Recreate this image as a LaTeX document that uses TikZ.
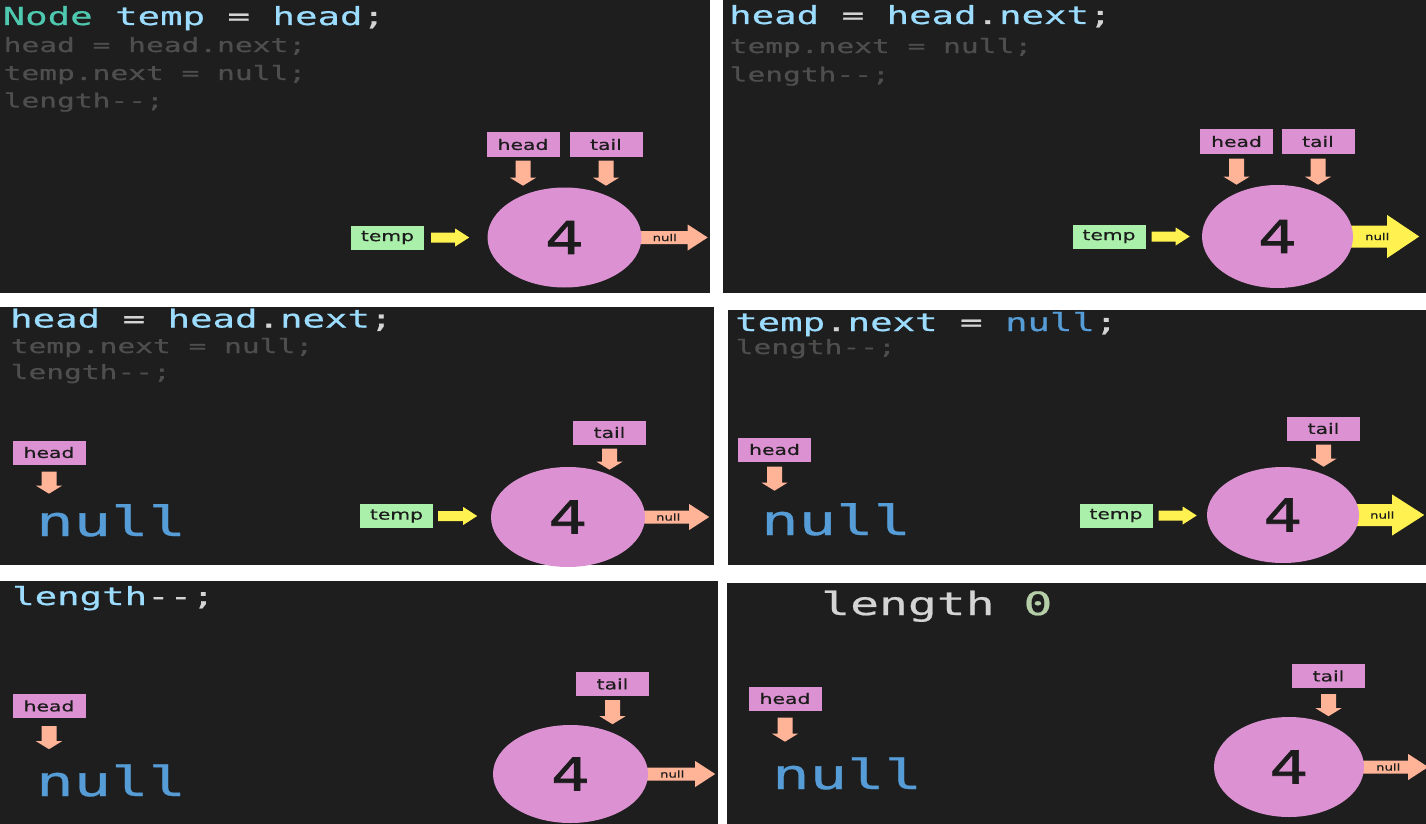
\documentclass[tikz,border=0pt]{standalone}
\usepackage{fontspec}
\usetikzlibrary{shapes.geometric,calc}
\newfontfamily\codefont[FakeStretch=1.5,FakeBold=0.7,Ligatures=TeXOff]{DejaVu Sans Mono}
\newfontfamily\labfont[FakeStretch=1.4,FakeBold=0.5,Ligatures=TeXOff]{DejaVu Sans}
\newfontfamily\digitfont[FakeStretch=1.35,FakeBold=1.6]{DejaVu Sans}
\definecolor{panelbg}{RGB}{30,30,30}
\definecolor{kwteal}{RGB}{78,201,176}
\definecolor{varblue}{RGB}{156,220,254}
\definecolor{opgrey}{RGB}{212,212,212}
\definecolor{dimtext}{RGB}{78,78,78}
\definecolor{nullblue}{RGB}{86,156,214}
\definecolor{numgreen}{RGB}{181,206,168}
\definecolor{nodepink}{RGB}{220,146,210}
\definecolor{salmonarr}{RGB}{255,180,152}
\definecolor{yellowarr}{RGB}{255,242,80}
\definecolor{tempgreen}{RGB}{170,240,170}
\definecolor{labtext}{RGB}{28,28,28}
\pgfdeclarelayer{front}
\pgfsetlayers{main,front}
\newcommand{\kw}[1]{\textcolor{kwteal}{#1}}
\newcommand{\vr}[1]{\textcolor{varblue}{#1}}
\newcommand{\op}[1]{\textcolor{opgrey}{#1}}
\newcommand{\nl}[1]{\textcolor{nullblue}{#1}}
\begin{document}
\begin{tikzpicture}[x=1pt,y=-1pt,
  codeln/.style={anchor=base west,inner sep=0pt,font=\codefont\fontsize{24.9}{28}\selectfont},
  dimln/.style={anchor=base west,inner sep=0pt,text=dimtext,font=\codefont\fontsize{19.7}{22}\selectfont},
  bignull/.style={anchor=base west,inner sep=0pt,text=nullblue,font=\codefont\fontsize{41.5}{46}\selectfont},
  lbl/.style={rectangle,fill=nodepink,text=labtext,inner sep=0pt,minimum width=73pt,minimum height=24pt,font=\labfont\fontsize{14.5}{16}\selectfont},
  tmp/.style={lbl,fill=tempgreen},
  listnode/.style={ellipse,fill=nodepink,text=labtext,inner sep=0pt,minimum width=154pt,minimum height=100pt,font=\digitfont\fontsize{45}{50}\selectfont},
  nulltxt/.style={inner sep=0pt,text=labtext,font=\labfont\fontsize{9.5}{10}\selectfont},
  pics/rarr/.style n args={5}{code={\fill[#5] (0,-#2) -- (#1-#4,-#2) -- (#1-#4,-#3) -- (#1,0) -- (#1-#4,#3) -- (#1-#4,#2) -- (0,#2) -- cycle;}},
  pics/darr/.style n args={5}{code={\fill[#5] (-#2,0) -- (-#2,#1-#4) -- (-#3,#1-#4) -- (0,#1) -- (#3,#1-#4) -- (#2,#1-#4) -- (#2,0) -- cycle;}},
]
\useasboundingbox (0,0) rectangle (1426,824);
\fill[white] (0,0) rectangle (1426,824);

% six frames of the removal walk-through
\fill[panelbg] (0,0) rectangle (710,293);
\fill[panelbg] (723,0) rectangle (1426,293);
\fill[panelbg] (0,307) rectangle (714,565);
\fill[panelbg] (728,310) rectangle (1426,565);
\fill[panelbg] (0,581) rectangle (718,824);
\fill[panelbg] (727,583) rectangle (1426,824);

% ---------- frame 1 ----------
\node[codeln] (c1a) at (2.5,25) {\kw{Node} \vr{temp} \op{=} \vr{head}\op{;}};
\node[dimln] (c1b) at (3.5,52) {head = head.next;};
\node[dimln] (c1c) at (3.5,80) {temp.next = null;};
\node[dimln] (c1d) at (3.5,107.5) {length--;};
\node[lbl] (hd1) at (523,144.5) {head};
\node[lbl] (tl1) at (606,144.5) {tail};
\node[tmp] (tp1) at (387.5,237.5) {temp};
\begin{pgfonlayer}{front}
\node[listnode] (n1) at (564.5,237.5) {4};
\end{pgfonlayer}
\pic at ($(hd1.south)+(0,4)$) {darr={25}{7.5}{13}{8}{salmonarr}};
\pic at ($(tl1.south)+(0,4)$) {darr={25}{7.5}{13}{8}{salmonarr}};
\pic at ($(tp1.east)+(7,0)$) {rarr={38}{5}{9}{14}{yellowarr}};
\pic at ($(n1.east)+(-8,0)$) {rarr={74}{6.5}{13}{20}{salmonarr}};
\node[nulltxt] (z1) at ($(n1.east)+(23,0)$) {null};

% ---------- frame 2 ----------
\node[codeln] (c2a) at (729,24) {\vr{head} \op{=} \vr{head}\op{.}\vr{next}\op{;}};
\node[dimln] (c2b) at (729.5,53) {temp.next = null;};
\node[dimln] (c2c) at (729.5,81.5) {length--;};
\node[lbl] (hd2) at (1236.5,141.5) {head};
\node[lbl] (tl2) at (1318,141.5) {tail};
\node[tmp] (tp2) at (1109,236.5) {temp};
\begin{pgfonlayer}{front}
\node[listnode,minimum width=151pt,minimum height=103pt] (n2) at (1277.5,236.5) {4};
\end{pgfonlayer}
\pic at ($(hd2.south)+(0,5)$) {darr={26}{7.5}{13}{8}{salmonarr}};
\pic at ($(tl2.south)+(0,5)$) {darr={26}{7.5}{13}{8}{salmonarr}};
\pic at ($(tp2.east)+(6,0)$) {rarr={38}{5}{9}{14}{yellowarr}};
\pic at ($(n2.east)+(-12,0)$) {rarr={78}{11}{21.5}{32}{yellowarr}};
\node[nulltxt] (z2) at ($(n2.east)+(24,0)$) {null};

% ---------- frame 3 ----------
\node[codeln] (c3a) at (10,327.5) {\vr{head} \op{=} \vr{head}\op{.}\vr{next}\op{;}};
\node[dimln] (c3b) at (10.5,353) {temp.next = null;};
\node[dimln] (c3c) at (10.5,379) {length--;};
\node[lbl] (hd3) at (49,452.5) {head};
\node[bignull] (h3) at (36,536) {null};
\node[lbl] (tl3) at (609.5,432.5) {tail};
\node[tmp] (tp3) at (396.5,516) {temp};
\begin{pgfonlayer}{front}
\node[listnode] (n3) at (568,517) {4};
\end{pgfonlayer}
\pic at ($(hd3.south)+(0,7)$) {darr={22}{7.5}{13}{8}{salmonarr}};
\pic at ($(tl3.south)+(0,4)$) {darr={21}{7.5}{13}{8}{salmonarr}};
\pic at ($(tp3.east)+(5,0)$) {rarr={39}{5}{9}{14}{yellowarr}};
\pic at ($(n3.east)+(-8,0)$) {rarr={72}{6.5}{13}{20}{salmonarr}};
\node[nulltxt] (z3) at ($(n3.east)+(23,0)$) {null};

% ---------- frame 4 ----------
\node[codeln] (c4a) at (735,331) {\vr{temp}\op{.}\vr{next} \op{=} \nl{null}\op{;}};
\node[dimln] (c4b) at (735.5,354) {length--;};
\node[lbl] (hd4) at (774.5,449.5) {head};
\node[bignull] (h4) at (761,535) {null};
\node[lbl] (tl4) at (1323.5,428.5) {tail};
\node[tmp] (tp4) at (1116,515.5) {temp};
\begin{pgfonlayer}{front}
\node[listnode,minimum width=152pt,minimum height=96pt] (n4) at (1283,515) {4};
\end{pgfonlayer}
\pic at ($(hd4.south)+(0,5)$) {darr={24}{7.5}{13}{8}{salmonarr}};
\pic at ($(tl4.south)+(0,4)$) {darr={22}{7.5}{13}{8}{salmonarr}};
\pic at ($(tp4.east)+(6,0)$) {rarr={38}{5}{9}{14}{yellowarr}};
\pic at ($(n4.east)+(-12,0)$) {rarr={77}{11}{20.5}{32}{yellowarr}};
\node[nulltxt] (z4) at ($(n4.east)+(23,0)$) {null};

% ---------- frame 5 ----------
\node[codeln] (c5a) at (12,605) {\vr{length}\op{--;}};
\node[lbl] (hd5) at (49,706) {head};
\node[bignull] (h5) at (36,796) {null};
\node[lbl] (tl5) at (612.5,684) {tail};
\begin{pgfonlayer}{front}
\node[listnode,minimum width=155pt,minimum height=98pt] (n5) at (570.5,774) {4};
\end{pgfonlayer}
\pic at ($(hd5.south)+(0,8)$) {darr={23}{7.5}{13}{8}{salmonarr}};
\pic at ($(tl5.south)+(0,4)$) {darr={24}{7.5}{13}{8}{salmonarr}};
\pic at ($(n5.east)+(-8,0)$) {rarr={75}{6.5}{13}{20}{salmonarr}};
\node[nulltxt] (z5) at ($(n5.east)+(24,0)$) {null};

% ---------- frame 6 ----------
\node[anchor=base west,inner sep=0pt,font=\codefont\fontsize{32}{36}\selectfont] (c6a) at (821,615) {\textcolor{opgrey}{length} \textcolor{numgreen}{0}};
\node[lbl] (hd6) at (785,698.5) {head};
\node[bignull] (h6) at (772,789) {null};
\node[lbl] (tl6) at (1328.5,676) {tail};
\begin{pgfonlayer}{front}
\node[listnode,minimum width=150pt,minimum height=100pt] (n6) at (1289,767) {4};
\end{pgfonlayer}
\pic at ($(hd6.south)+(0,7)$) {darr={24}{7.5}{13}{8}{salmonarr}};
\pic at ($(tl6.south)+(0,6)$) {darr={22}{7.5}{13}{8}{salmonarr}};
\pic at ($(n6.east)+(-8,0)$) {rarr={72}{6.5}{13}{20}{salmonarr}};
\node[nulltxt] (z6) at ($(n6.east)+(24,0)$) {null};
\end{tikzpicture}
\end{document}
